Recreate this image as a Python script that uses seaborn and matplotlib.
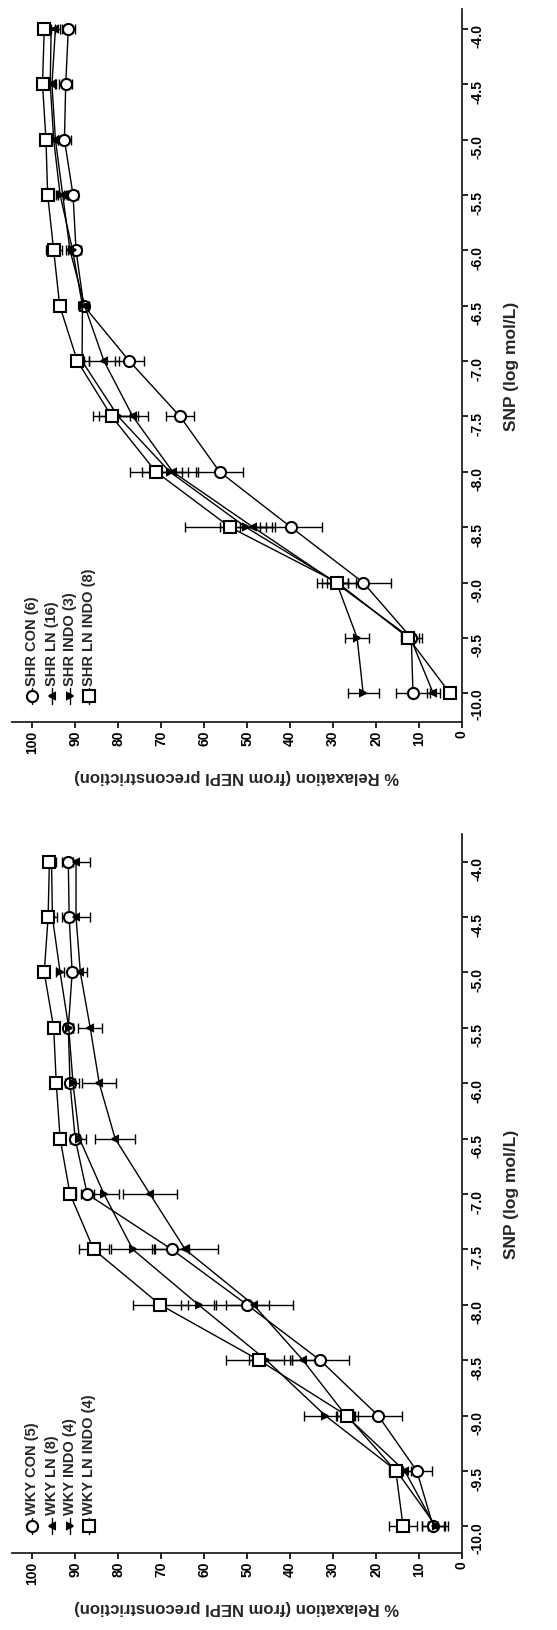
import numpy as np
import pandas as pd
import matplotlib
matplotlib.use("Agg")
import matplotlib.pyplot as plt
import seaborn as sns

# ---------------- data ----------------
snp = [-10.0, -9.5, -9.0, -8.5, -8.0, -7.5, -7.0, -6.5, -6.0, -5.5, -5.0, -4.5, -4.0]
snp_ticks = [-10.0, -9.5, -9.0, -8.5, -8.0, -7.5, -7.0, -6.5, -6.0, -5.5, -5.0, -4.5, -4.0]
snp_tick_labels = ["-10.0", "-9.5", "-9.0", "-8.5", "-8.0", "-7.5", "-7.0",
                   "-6.5", "-6.0", "-5.5", "-5.0", "-4.5", "-4.0"]
relax_ticks = [0, 10, 20, 30, 40, 50, 60, 70, 80, 90, 100]
relax_tick_labels = ["0", "10", "20", "30", "40", "50", "60", "70", "80", "90", "100"]

x_label = "% Relaxation (from NEPI preconstriction)"
y_label = "SNP (log mol/L)"

shr_labels = ["SHR CON (6)", "SHR LN (16)", "SHR INDO (3)", "SHR LN INDO (8)"]
shr_con = [11.4, 11.8, 23.0, 39.8, 56.4, 65.6, 77.4, 88.0, 89.8, 90.5, 92.5, 92.2, 91.6]
shr_con_sem = [4.0, 2.5, 6.4, 7.3, 5.4, 3.2, 3.3, 1.0, 1.2, 1.2, 1.5, 1.5, 1.5]
shr_ln = [6.7, 12.0, 29.5, 48.6, 67.3, 76.6, 83.3, 87.8, 91.2, 92.9, 94.6, 95.4, 94.6]
shr_ln_sem = [1.5, 2.0, 3.0, 3.0, 3.5, 3.6, 3.6, 1.0, 1.0, 1.0, 1.0, 1.0, 1.0]
shr_indo = [23.0, 24.4, 29.2, 50.3, 68.0, 80.0, 88.4, 88.3, 90.6, 93.5, 95.0, 95.8, 95.6]
shr_indo_sem = [3.6, 2.8, 4.5, 6.0, 6.5, 4.5, 1.5, 0.8, 1.0, 1.0, 1.0, 1.0, 1.0]
shr_lnindo = [2.8, 12.5, 29.0, 54.0, 71.2, 81.5, 89.5, 93.6, 95.0, 96.4, 96.8, 97.6, 97.2]
shr_lnindo_sem = [1.0, 1.5, 2.5, 10.5, 6.0, 4.3, 1.5, 0.5, 1.9, 0.5, 0.5, 0.5, 0.5]

wky_labels = ["WKY CON (5)", "WKY LN (8)", "WKY INDO (4)", "WKY LN INDO (4)"]
wky_con = [6.7, 10.5, 19.5, 33.0, 50.0, 67.5, 87.2, 90.0, 91.2, 91.6, 90.7, 91.4, 91.6]
wky_con_sem = [2.5, 3.5, 5.6, 6.6, 5.0, 4.0, 1.5, 1.2, 1.2, 1.0, 1.0, 1.0, 1.0]
wky_ln = [6.3, 13.3, 27.0, 37.0, 48.5, 64.4, 72.6, 80.7, 84.4, 86.5, 88.8, 89.8, 89.8]
wky_ln_sem = [3.0, 1.5, 2.0, 3.0, 9.1, 7.7, 6.2, 4.6, 4.0, 2.8, 1.5, 3.3, 3.3]
wky_indo = [6.0, 15.2, 31.8, 45.5, 61.3, 76.6, 83.3, 89.0, 90.5, 91.5, 93.5, 95.3, 95.5]
wky_indo_sem = [2.0, 1.5, 5.0, 4.0, 4.0, 5.0, 3.5, 1.5, 1.5, 1.0, 1.0, 1.0, 1.0]
wky_lnindo = [13.7, 15.4, 26.8, 47.2, 70.2, 85.7, 91.2, 93.5, 94.4, 95.0, 97.2, 96.3, 96.0]
wky_lnindo_sem = [3.3, 1.5, 2.5, 7.6, 6.4, 3.5, 1.5, 1.0, 1.0, 1.0, 1.0, 1.0, 1.0]

# ---------------- style ----------------
sns.set_style("ticks")
plt.rcParams["font.family"] = ["Liberation Sans", "DejaVu Sans"]
plt.rcParams["font.weight"] = "bold"
plt.rcParams["axes.unicode_minus"] = False

styles = [  # marker, face, size
    ("o", "white", 8),
    ("<", "black", 4.8),
    (">", "black", 4.8),
    ("s", "white", 8),
]

fig = plt.figure(figsize=(5.57, 16.31), dpi=100)
W, H = 557.0, 1631.0


def make_axes(left, right, top, bottom):
    return fig.add_axes([left / W, 1 - bottom / H, (right - left) / W, (bottom - top) / H])


ax_top = make_axes(12, 462, 10, 723)
ax_bot = make_axes(12, 462, 835, 1554)

legend_x_px = [32, 52, 70, 89]


def draw_panel(ax, labels, means, sems, ylim, top_px, bottom_px, marker_px, text_px):
    for lab, m, s, (mk, fc, ms) in zip(labels, means, sems, styles):
        ax.errorbar(m, snp, xerr=s, fmt="none", ecolor="black", elinewidth=1.0,
                    capsize=3.3, capthick=1.0, zorder=2)
        df = pd.DataFrame({"relax": m, "snp": snp})
        sns.lineplot(data=df, x="relax", y="snp", orient="y", sort=False, estimator=None,
                     color="black", linewidth=1.0, marker=mk, markersize=ms,
                     markerfacecolor=fc, markeredgecolor="black", markeredgewidth=1.5,
                     ax=ax, zorder=3, legend=False)
    ax.set_xlim(104.7, 0)
    ax.set_ylim(*ylim)
    ax.set_xticks(relax_ticks)
    ax.set_xticklabels(relax_tick_labels)
    ax.yaxis.tick_right()
    ax.yaxis.set_label_position("right")
    ax.set_yticks(snp_ticks)
    ax.set_yticklabels(snp_tick_labels)
    for sp in ["top", "left"]:
        ax.spines[sp].set_visible(False)
    for sp in ["bottom", "right"]:
        ax.spines[sp].set_linewidth(1.3)
        ax.spines[sp].set_color("#222222")
    ax.tick_params(axis="x", direction="out", length=4, width=1.2, pad=1.5,
                   labelrotation=90, labelsize=10, colors="black")
    ax.tick_params(axis="y", direction="out", length=4, width=1.2, pad=2,
                   labelrotation=90, labelsize=10, colors="black", left=False, right=True)
    for t in ax.get_xticklabels() + ax.get_yticklabels():
        t.set_fontweight("bold")
    ax.set_xlabel(x_label, rotation=180, fontsize=12, fontweight="bold", labelpad=11)
    ax.set_ylabel(y_label, rotation=90, fontsize=12.5, fontweight="bold", labelpad=14)

    # manual (rotated) legend
    h = bottom_px - top_px
    my = (bottom_px - marker_px) / h
    ty = (bottom_px - text_px) / h
    for lab, xp, (mk, fc, ms) in zip(labels, legend_x_px, styles):
        xf = (xp - 12) / 450.0
        ax.plot([xf, xf, xf], [my - 0.011, my, my + 0.011], transform=ax.transAxes,
                color="black", linewidth=1.0, marker=mk, markevery=[1], markersize=ms,
                markerfacecolor=fc, markeredgecolor="black", markeredgewidth=1.5,
                clip_on=False)
        ax.text(xf, ty, lab, rotation=90, ha="center", va="bottom",
                transform=ax.transAxes, fontsize=10.5, fontweight="bold")


draw_panel(ax_top, shr_labels,
           [shr_con, shr_ln, shr_indo, shr_lnindo],
           [shr_con_sem, shr_ln_sem, shr_indo_sem, shr_lnindo_sem],
           (-10.26, -3.82), 10, 723, 697, 686)
draw_panel(ax_bot, wky_labels,
           [wky_con, wky_ln, wky_indo, wky_lnindo],
           [wky_con_sem, wky_ln_sem, wky_indo_sem, wky_lnindo_sem],
           (-10.24, -3.75), 835, 1554, 1527, 1515)

fig.savefig("out.png", dpi=100, facecolor="white")
